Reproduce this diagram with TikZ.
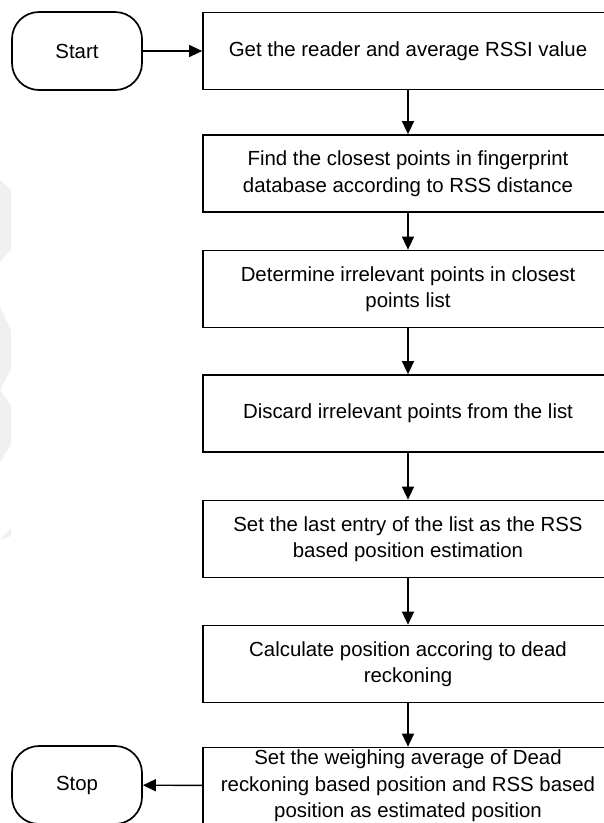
\documentclass[tikz,border=0pt]{standalone}
\usepackage{fontspec}
\setmainfont{Liberation Sans}
\usetikzlibrary{arrows.meta}
\tikzset{
  stepbox/.style={draw=black, line width=1.7pt, fill=white, minimum width=410pt,
    minimum height=77pt, align=center, inner sep=0pt, font=\fontsize{20.4}{26.5}\selectfont},
  termbox/.style={draw=black, line width=1.7pt, fill=white, rounded corners=27pt,
    minimum width=130pt, minimum height=78pt, inner sep=0pt, font=\fontsize{20.4}{26.5}\selectfont},
  flow/.style={line width=1.4pt, -{Triangle[length=13pt, width=12pt]}},
}
\begin{document}
\begin{tikzpicture}[x=1pt, y=-1pt]
\useasboundingbox (0,0) rectangle (604,823);
\clip (0,0) rectangle (604,823);
% faint background marks at the left edge
\fill[black!6] (0,180) -- (11,190) -- (11,250) -- (0,262) -- cycle;
\fill[black!6] (0,307) -- (11,330) -- (11,370) -- (0,390) -- (11,405) -- (11,445) -- (0,462) -- cycle;
\fill[black!6] (0,540) -- (11,528) -- (11,536) -- cycle;
% terminals
\node[termbox] (start) at (77,51) {Start};
\node[termbox] (stop) at (77,785) {Stop};
% process steps
\node[stepbox] (s1) at (408,51) {Get the reader and average RSSI value};
\node[stepbox] (s2) at (408,173.5) {Find the closest points in fingerprint\\database according to RSS distance};
\node[stepbox] (s3) at (408,289) {Determine irrelevant points in closest\\points list};
\node[stepbox] (s4) at (408,413.5) {Discard irrelevant points from the list};
\node[stepbox] (s5) at (408,539) {Set the last entry of the list as the RSS\\based position estimation};
\node[stepbox] (s6) at (408,664) {Calculate position accoring to dead\\reckoning};
\node[stepbox] (s7) at (408,786) {Set the weighing average of Dead\\reckoning based position and RSS based\\position as estimated position};
% connectors
\draw[flow] (start) -- (s1);
\draw[flow] (s1) -- (s2);
\draw[flow] (s2) -- (s3);
\draw[flow] (s3) -- (s4);
\draw[flow] (s4) -- (s5);
\draw[flow] (s5) -- (s6);
\draw[flow] (s6) -- (s7);
\draw[flow] (s7) -- (stop);
\end{tikzpicture}
\end{document}
